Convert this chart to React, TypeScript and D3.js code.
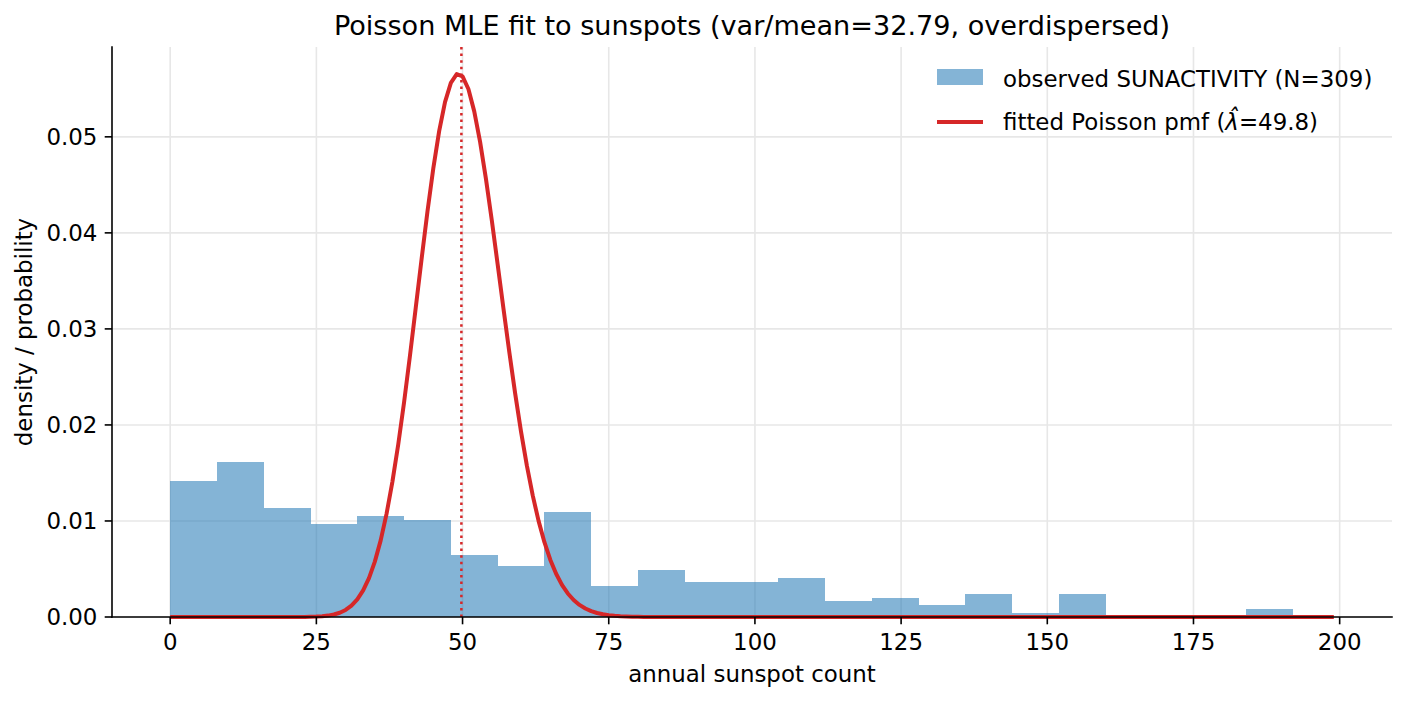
import React from "react";
import * as d3 from "d3";

// ---- data ----
const binEdgesStart = [0, 8, 16, 24, 32, 40, 48, 56, 64, 72, 80, 88, 96, 104, 112, 120, 128, 136, 144, 152, 160, 168, 176, 184];
const binWidth = 8;
const binCounts = [35, 40, 28, 24, 26, 25, 16, 13, 27, 8, 12, 9, 9, 10, 4, 5, 3, 6, 1, 6, 0, 0, 0, 2];
const sampleN = 309;
const lambdaHat = 49.8;
const pmfMaxK = 199;
const xTicks = [0, 25, 50, 75, 100, 125, 150, 175, 200];
const yTicks = [0, 0.01, 0.02, 0.03, 0.04, 0.05];
const titleText = "Poisson MLE fit to sunspots (var/mean=32.79, overdispersed)";
const xLabel = "annual sunspot count";
const yLabel = "density / probability";

const W = 1406;
const H = 701;
const M = { left: 112, right: 1392, top: 47, bottom: 617 };
const FONT = "DejaVu Sans, sans-serif";
const FS = 22.9;

export default function App() {
  const ks = d3.range(0, pmfMaxK + 1);
  // Poisson pmf for the fitted lambda
  let logFact = 0;
  const pmf = ks.map((k) => {
    if (k > 0) logFact += Math.log(k);
    return Math.exp(k * Math.log(lambdaHat) - lambdaHat - logFact);
  });
  const xmin = 0;
  const xmax = pmfMaxK;
  const pad = (xmax - xmin) * 0.05;
  const x = d3.scaleLinear().domain([xmin - pad, xmax + pad]).range([M.left, M.right]);
  const ymaxData = d3.max(pmf) as number;
  const y = d3.scaleLinear().domain([0, ymaxData * 1.05]).range([M.bottom, M.top]);

  const density = binCounts.map((c) => c / (sampleN * binWidth));
  const line = d3
    .line<number>()
    .x((_, i) => x(ks[i]))
    .y((d) => y(d));

  const gridColor = "#e7e7e7";

  return (
    <svg
      width={W}
      height={H}
      style={{ position: "absolute", left: 0, top: 0, background: "#fff" }}
      fontFamily={FONT}
    >
      <rect x={0} y={0} width={W} height={H} fill="#fff" />
      {/* grid */}
      {xTicks.map((t) => (
        <line key={"gx" + t} x1={x(t)} x2={x(t)} y1={M.top} y2={M.bottom} stroke={gridColor} strokeWidth={1.6} />
      ))}
      {yTicks.map((t) => (
        <line key={"gy" + t} x1={M.left} x2={M.right} y1={y(t)} y2={y(t)} stroke={gridColor} strokeWidth={1.6} />
      ))}
      {/* histogram */}
      {binEdgesStart.map((s, i) => (
        <rect
          key={"b" + i}
          x={x(s)}
          width={x(s + binWidth) - x(s)}
          y={y(density[i])}
          height={y(0) - y(density[i])}
          fill="#1f77b4"
          fillOpacity={0.55}
          shapeRendering="crispEdges"
        />
      ))}
      {/* pmf */}
      <path d={line(pmf) || ""} fill="none" stroke="#d62728" strokeWidth={4} strokeLinejoin="round" />
      {/* lambda line */}
      <line
        x1={x(lambdaHat)}
        x2={x(lambdaHat)}
        y1={M.top}
        y2={M.bottom}
        stroke="#d62728"
        strokeWidth={2.5}
        strokeDasharray="2.5 4.1"
      />
      {/* spines */}
      <line x1={M.left} x2={M.left} y1={M.top} y2={M.bottom} stroke="#000" strokeWidth={1.6} strokeLinecap="square" />
      <line x1={M.left} x2={M.right} y1={M.bottom} y2={M.bottom} stroke="#000" strokeWidth={1.6} strokeLinecap="square" />
      {/* x ticks */}
      {xTicks.map((t) => (
        <g key={"xt" + t}>
          <line x1={x(t)} x2={x(t)} y1={M.bottom} y2={M.bottom + 7.3} stroke="#000" strokeWidth={1.6} />
          <text x={x(t)} y={M.bottom + 32.5} textAnchor="middle" fontSize={FS} fill="#000">
            {t}
          </text>
        </g>
      ))}
      {/* y ticks */}
      {yTicks.map((t) => (
        <g key={"yt" + t}>
          <line x1={M.left - 7.3} x2={M.left} y1={y(t)} y2={y(t)} stroke="#000" strokeWidth={1.6} />
          <text x={M.left - 14.6} y={y(t) + 8.3} textAnchor="end" fontSize={FS} fill="#000">
            {t.toFixed(2)}
          </text>
        </g>
      ))}
      {/* labels */}
      <text x={(M.left + M.right) / 2} y={682} textAnchor="middle" fontSize={FS} fill="#000">
        {xLabel}
      </text>
      <text
        transform={`translate(32, ${(M.top + M.bottom) / 2}) rotate(-90)`}
        textAnchor="middle"
        fontSize={FS}
        fill="#000"
      >
        {yLabel}
      </text>
      <text x={(M.left + M.right) / 2} y={35} textAnchor="middle" fontSize={27.1} fill="#000">
        {titleText}
      </text>
      {/* legend */}
      <rect x={937} y={69} width={46} height={16} fill="#1f77b4" fillOpacity={0.55} />
      <text x={1003} y={86.5} fontSize={FS} fill="#000">
        observed SUNACTIVITY (N={sampleN})
      </text>
      <line x1={937} x2={983} y1={122} y2={122} stroke="#d62728" strokeWidth={4} />
      <text x={1003} y={129.5} fontSize={FS} fill="#000">
        fitted Poisson pmf (<tspan fontStyle="italic">λ̂</tspan>={lambdaHat})
      </text>
    </svg>
  );
}
